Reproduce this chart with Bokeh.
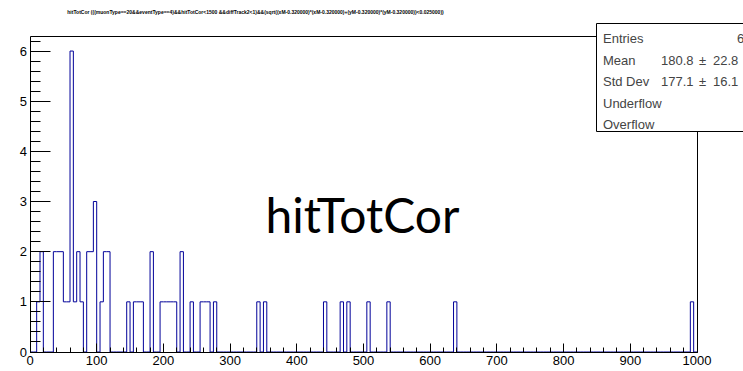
import numpy as np
from bokeh.plotting import figure
from bokeh.models import Range1d, FixedTicker, Label, BoxAnnotation, LinearAxis
from bokeh.embed import file_html
from bokeh.resources import INLINE

# hitTotCor histogram: 200 bins of width 5 on [0, 1000)
x_min, x_max, bin_width = 0, 1000, 5
filled_bin_low = [10, 15, 35, 40, 45, 50, 55, 60, 65, 70, 75, 85, 90, 95,
                  105, 110, 115, 145, 155, 160, 165, 180, 195, 200, 205, 210,
                  215, 225, 240, 255, 260, 265, 275, 340, 350, 440, 465, 475,
                  505, 535, 635, 990]
filled_counts = [1, 2, 2, 2, 2, 1, 1, 6, 1, 2, 1, 2, 2, 3,
                 1, 2, 2, 1, 1, 1, 1, 2, 1, 1, 1, 1,
                 1, 2, 1, 1, 1, 1, 1, 1, 1, 1, 1, 1,
                 1, 1, 1, 1]

# statistics box entries
stat_names = ["Entries", "Mean", "Std Dev", "Underflow", "Overflow"]
stat_values = ["60", "180.8", "177.1", "0", "0"]
stat_errors = ["", "22.8", "16.1", "", ""]

title_text = ("hitTotCor (((muonType==20&&eventType==4)&&hitTotCor<1500 "
              "&&diffTrack2<1)&&(sqrt((xM-0.320000)*(xM-0.320000)+"
              "(yM-0.320000)*(yM-0.320000))<0.025000))")
x_ticks = list(range(0, 1001, 100))
x_minor = list(range(0, 1001, 20))
y_ticks = list(range(0, 7))

# full bin contents
edges = np.arange(x_min, x_max + bin_width, bin_width)
counts = np.zeros(len(edges) - 1)
for lo, c in zip(filled_bin_low, filled_counts):
    counts[int((lo - x_min) // bin_width)] = c
y_max = counts.max() * 1.05
y_minor = [i * 0.2 for i in range(0, int(y_max / 0.2) + 1)]

# step outline of the histogram
xs = np.concatenate([[edges[0]], np.repeat(edges, 2)[1:-1], [edges[-1]]])
ys = np.concatenate([[0], np.repeat(counts, 2), [0]])

# canvas size and where the histogram frame sits on it (pixels)
W, H = 743, 371
FL, FR, FT, FB = 29.5, 696.5, 35.5, 351.5
kx = (FR - FL) / (x_max - x_min)
ky = (FB - FT) / y_max

def sx(px):
    return x_min + (px - FL) / kx

def sy(py):
    return (FB - py) / ky

p = figure(width=W, height=H, x_range=Range1d(sx(0), sx(W)),
           y_range=Range1d(sy(H), sy(0)), output_backend="svg",
           toolbar_location=None, min_border=0)
p.grid.visible = False
p.outline_line_color = None
p.background_fill_color = "white"
p.border_fill_color = "white"

p.line(xs, ys, line_color="#000099", line_width=1)

def style_axis(ax):
    ax.axis_line_color = "black"
    ax.major_tick_line_color = "black"
    ax.minor_tick_line_color = "black"
    ax.major_tick_out = 0
    ax.minor_tick_out = 0
    ax.major_label_text_font = "Liberation Sans"
    ax.major_label_text_font_size = "13px"
    ax.major_label_text_color = "black"

xa = p.xaxis[0]
style_axis(xa)
xa.fixed_location = 0
xa.bounds = (x_min, x_max)
xa.ticker = FixedTicker(ticks=x_ticks, minor_ticks=x_minor)
xa.major_tick_in = 9
xa.minor_tick_in = 5
xa.major_label_standoff = 4

ya = p.yaxis[0]
style_axis(ya)
ya.fixed_location = x_min
ya.bounds = (0, y_max)
ya.ticker = FixedTicker(ticks=y_ticks, minor_ticks=y_minor)
ya.major_tick_in = 20
ya.minor_tick_in = 10
ya.major_label_standoff = 3

# top and right edges of the frame
top = LinearAxis(fixed_location=y_max, bounds=(x_min, x_max),
                 ticker=FixedTicker(ticks=[]), axis_line_color="black",
                 major_label_text_color=None)
right = LinearAxis(fixed_location=x_max, bounds=(0, y_max),
                   ticker=FixedTicker(ticks=[]), axis_line_color="black",
                   major_label_text_color=None)
p.add_layout(top, "above")
p.add_layout(right, "right")

# centred name of the variable
p.add_layout(Label(x=sx(362), y=sy(214), text="hitTotCor", text_font="Lato",
                   text_font_size="48px", text_align="center",
                   text_baseline="alphabetic", text_color="black"))

# title line
p.add_layout(Label(x=sx(255), y=sy(11), text=title_text,
                   text_font="Liberation Sans", text_font_size="5px",
                   text_font_style="bold", text_align="center",
                   text_baseline="middle", text_color="black"))

# statistics box
p.add_layout(BoxAnnotation(left=sx(596), right=sx(800), top=sy(23),
                           bottom=sy(131), fill_color="white", fill_alpha=1,
                           line_color="black", line_width=1, line_alpha=1,
                           level="overlay"))
row0, dy = 38.3, 21.4
for i, (name, val, err) in enumerate(zip(stat_names, stat_values, stat_errors)):
    base = sy(row0 + i * dy)
    common = dict(y=base, text_font="Liberation Sans", text_font_size="13px",
                  text_baseline="alphabetic", level="overlay")
    p.add_layout(Label(x=sx(602.5), text=name, **common))
    if err:
        p.add_layout(Label(x=sx(660.5), text=val, **common))
        p.add_layout(Label(x=sx(698.5), text="\u00b1", **common))
        p.add_layout(Label(x=sx(712.5), text=err, **common))
    else:
        p.add_layout(Label(x=sx(751), text=val, text_align="right", **common))

open("out.html", "w").write(file_html(p, INLINE))
